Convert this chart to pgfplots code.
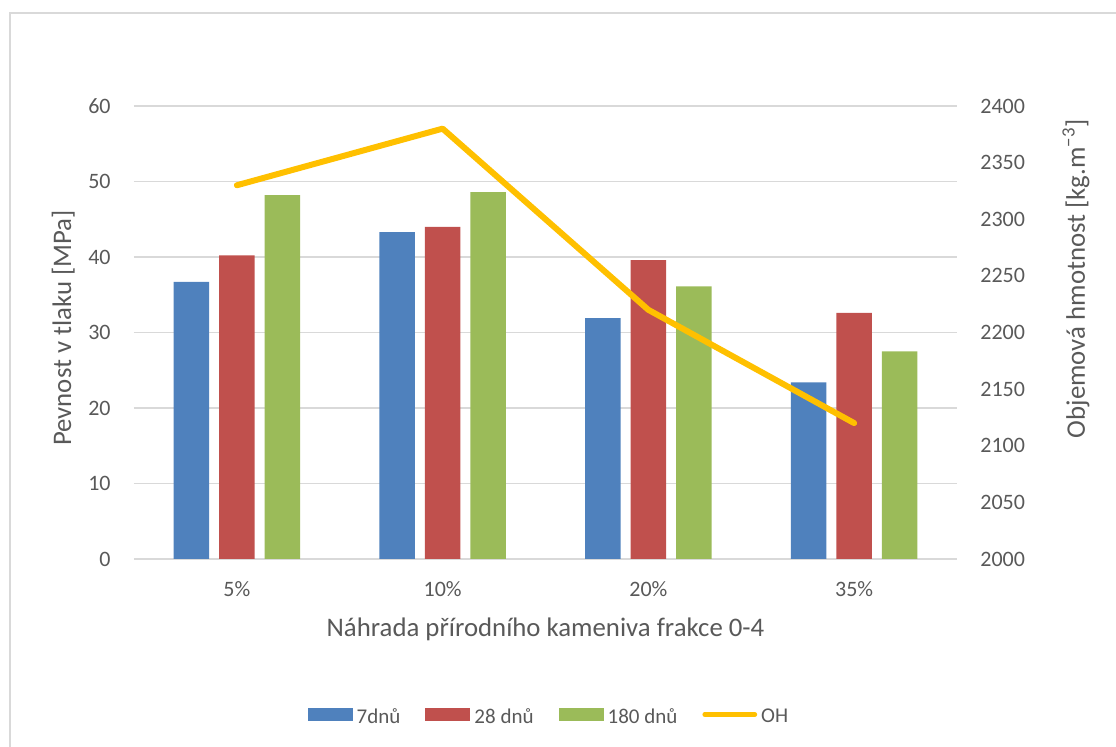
\documentclass[border=0pt]{standalone}
\usepackage{pgfplots}
\pgfplotsset{compat=1.18}
\usepackage{fontspec}
\setmainfont{Carlito}
\definecolor{txt}{HTML}{595959}
\definecolor{gridc}{HTML}{D9D9D9}
\definecolor{cblue}{HTML}{4F81BD}
\definecolor{cred}{HTML}{C0504D}
\definecolor{cgreen}{HTML}{9BBB59}
\definecolor{corange}{HTML}{FFC000}
\begin{document}
\begin{tikzpicture}[text=txt]
\path[use as bounding box] (0,0) rectangle (558pt,373.5pt);
\draw[gridc, line width=0.75pt] (5pt,0) -- (5pt,367pt) -- (558pt,367pt);
\begin{axis}[
  at={(67pt,94pt)}, anchor=south west,
  scale only axis, width=411.5pt, height=226.5pt,
  xmin=-0.5, xmax=3.5, ymin=0, ymax=60,
  ytick distance=10,
  xtick={0,1,2,3}, xticklabels={5\%,10\%,20\%,35\%},
  axis x line*=bottom, axis y line*=left,
  axis line style={-},
  y axis line style={draw=none},
  x axis line style={gridc, line width=0.75pt, -},
  major tick length=0pt,
  ymajorgrids, grid style={gridc, line width=0.75pt},
  ybar=5pt, bar width=17.75pt,
  /pgf/number format/assume math mode=true,
  tick label style={font=\fontsize{11}{13}\selectfont, text=txt},
  yticklabel style={anchor=east, inner sep=0pt, xshift=-11.5pt},
  xticklabel style={anchor=base, inner sep=0pt, yshift=-19pt},
  xlabel={Náhrada přírodního kameniva frakce 0-4},
  ylabel={Pevnost v tlaku [MPa]},
  label style={font=\fontsize{13.4}{16}\selectfont, text=txt, inner sep=0pt},
  xlabel style={at={(axis description cs:0.5,0)}, anchor=base, yshift=-39pt},
  ylabel style={at={(axis description cs:-0.0765,0.51)}, anchor=base},
  legend style={at={(axis description cs:0.503,-0.3488)}, anchor=center, draw=none, fill=none,
    font=\fontsize{10.5}{12}\selectfont, text=txt, legend columns=4,
    column sep=2pt, /tikz/every even column/.append style={column sep=12.5pt},
    nodes={inner sep=0pt}},
  legend cell align=left,
]
\addplot[fill=cblue, draw=none, legend image code/.code={\fill[cblue] (0pt,-2pt) rectangle (22.5pt,4.9pt);}]
  coordinates {(0,36.7) (1,43.3) (2,31.9) (3,23.4)};
\addlegendentry{7dnů}
\addplot[fill=cred, draw=none, legend image code/.code={\fill[cred] (0pt,-2pt) rectangle (22.5pt,4.9pt);}]
  coordinates {(0,40.2) (1,44.0) (2,39.6) (3,32.6)};
\addlegendentry{28 dnů}
\addplot[fill=cgreen, draw=none, legend image code/.code={\fill[cgreen] (0pt,-2pt) rectangle (22.5pt,4.9pt);}]
  coordinates {(0,48.2) (1,48.6) (2,36.1) (3,27.5)};
\addlegendentry{180 dnů}
\addlegendimage{legend image code/.code={\draw[corange, line width=2.4pt, line cap=round] (0pt,1.45pt) -- (25pt,1.45pt);}}
\addlegendentry{OH}
\end{axis}
\begin{axis}[
  at={(67pt,94pt)}, anchor=south west,
  scale only axis, width=411.5pt, height=226.5pt,
  xmin=-0.5, xmax=3.5, ymin=2000, ymax=2400,
  ytick distance=50,
  axis y line*=right, axis x line=none,
  axis line style={-},
  y axis line style={draw=none},
  major tick length=0pt,
  /pgf/number format/assume math mode=true,
  /pgf/number format/1000 sep={},
  tick label style={font=\fontsize{11}{13}\selectfont, text=txt},
  yticklabel style={anchor=west, inner sep=0pt, xshift=11.5pt},
  ylabel={Objemová hmotnost [kg.m\textsuperscript{−3}]},
  ylabel style={font=\fontsize{13.4}{16}\selectfont, text=txt, inner sep=0pt,
    at={(axis description cs:1.1555,0.619)}, anchor=base},
]
\addplot[corange, line width=3pt, line join=round, line cap=round, mark=none]
  coordinates {(0,2330) (1,2380) (2,2220) (3,2120)};
\end{axis}
\end{tikzpicture}
\end{document}
